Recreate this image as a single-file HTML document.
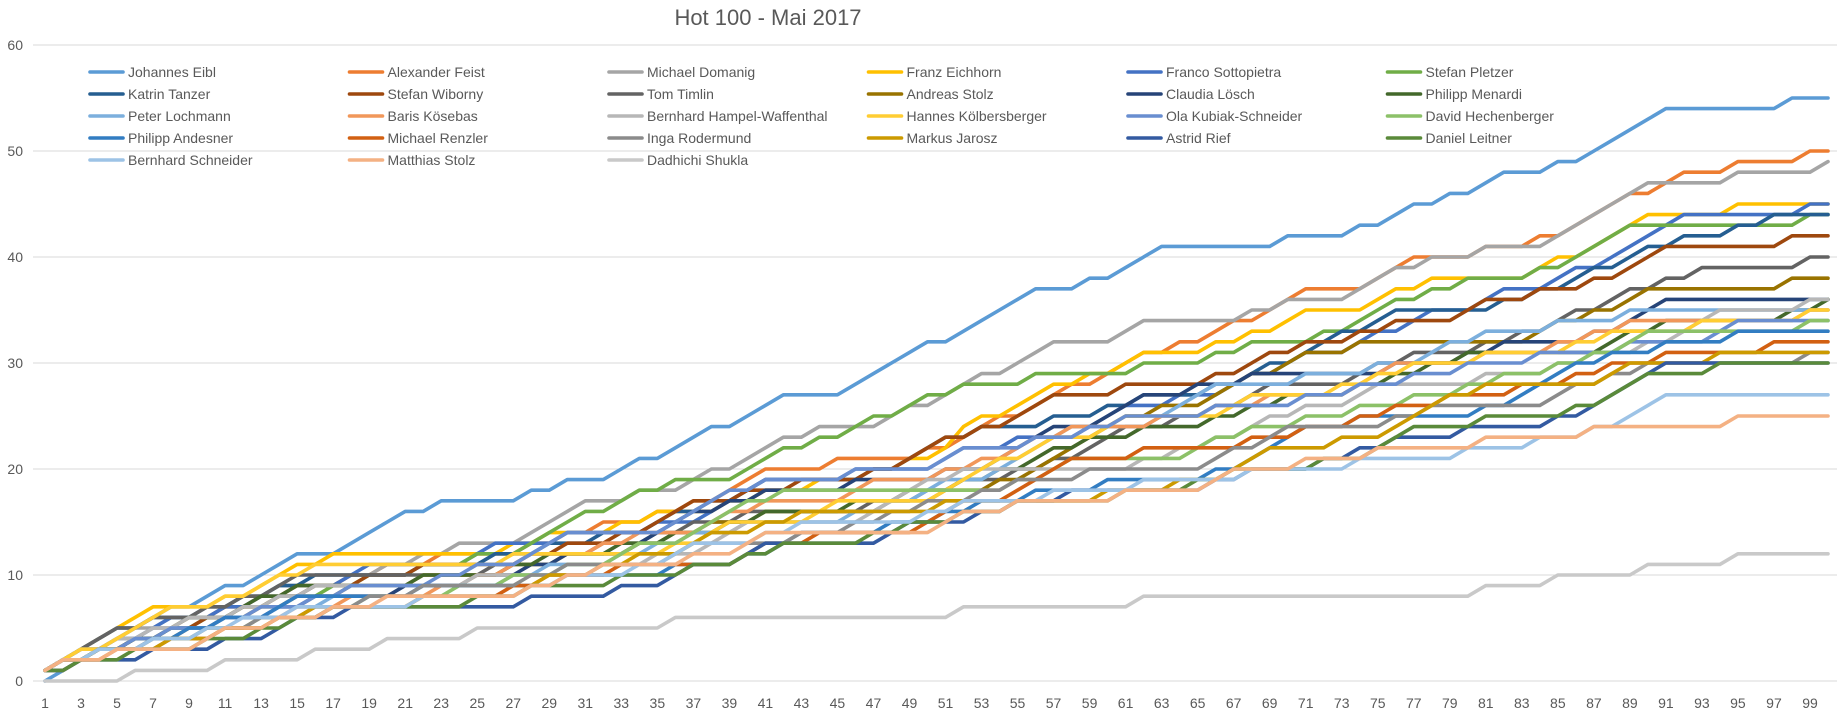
<!DOCTYPE html>
<html><head><meta charset="utf-8"><title>Hot 100 - Mai 2017</title>
<style>
html,body{margin:0;padding:0;background:#fff;}
#wrap{position:relative;width:1843px;height:723px;overflow:hidden;font-family:"Liberation Sans",sans-serif;}
svg{position:absolute;left:0;top:0;}
</style></head>
<body>
<div id="wrap">
<svg id="chart" width="1843" height="723">
<text x="768" y="25" text-anchor="middle" font-size="22" fill="#595959" font-family="Liberation Sans, sans-serif">Hot 100 - Mai 2017</text>
<g id="grid"></g>
<g id="yaxis"></g>
<g id="xaxis"></g>
<g id="series"></g>
<g id="legend"></g>
</svg>
</div>
<script>
const names = ["Johannes Eibl","Alexander Feist","Michael Domanig","Franz Eichhorn","Franco Sottopietra","Stefan Pletzer","Katrin Tanzer","Stefan Wiborny","Tom Timlin","Andreas Stolz","Claudia Lösch","Philipp Menardi","Peter Lochmann","Baris Kösebas","Bernhard Hampel-Waffenthal","Hannes Kölbersberger","Ola Kubiak-Schneider","David Hechenberger","Philipp Andesner","Michael Renzler","Inga Rodermund","Markus Jarosz","Astrid Rief","Daniel Leitner","Bernhard Schneider","Matthias Stolz","Dadhichi Shukla"];
const colors = ["#5B9BD5","#ED7D31","#A5A5A5","#FFC000","#4472C4","#70AD47","#255E91","#9E480E","#636363","#997300","#264478","#43682B","#7CAFDD","#F1975A","#B7B7B7","#FFCD33","#698ED0","#8CC168","#327DC2","#D26012","#8B8B8B","#CC9A00","#335AA1","#5A8A3A","#9DC3E6","#F4B183","#C9C9C9"];
const yTicks = [0,10,20,30,40,50,60];
const eibl = [0,1,2,3,4,5,6,7,7,8, 9,9,10,11,12,12,12,13,14,15, 16,16,17,17,17,17,17,18,18,19, 19,19,20,21,21,22,23,24,24,25, 26,27,27,27,27,28,29,30,31,32, 32,33,34,35,36,37,37,37,38,38, 39,40,41,41,41,41,41,41,41,42, 42,42,42,43,43,44,45,45,46,46, 47,48,48,48,49,49,50,51,52,53, 54,54,54,54,54,54,54,55,55,55];
const feist = [1,2,3,3,4,4,5,5,6,6, 7,7,8,8,9,9,9,10,10,11, 11,11,12,12,12,12,12,13,13,14, 14,15,15,15,16,16,17,17,18,19, 20,20,20,20,21,21,21,21,21,22, 22,23,24,25,25,26,27,28,28,29, 30,31,31,32,32,33,34,34,35,36, 37,37,37,37,38,39,40,40,40,40, 41,41,41,42,42,43,44,45,46,46, 47,48,48,48,49,49,49,49,50,50];
const domanig = [1,2,3,3,4,5,5,6,6,6, 7,8,8,9,9,9,9,10,10,11, 11,12,12,13,13,13,13,14,15,16, 17,17,17,18,18,18,19,20,20,21, 22,23,23,24,24,24,24,25,26,26, 27,28,29,29,30,31,32,32,32,32, 33,34,34,34,34,34,34,35,35,36, 36,36,36,37,38,39,39,40,40,40, 41,41,41,41,42,43,44,45,46,47, 47,47,47,47,48,48,48,48,48,49];
const eichhorn = [1,2,3,4,5,6,7,7,7,7, 8,8,9,10,11,11,12,12,12,12, 12,12,12,12,12,12,13,13,14,14, 14,14,15,15,16,16,16,16,17,17, 18,18,18,19,19,19,20,20,21,21, 22,24,25,25,26,27,28,28,29,29, 30,31,31,31,31,32,32,33,33,34, 35,35,35,35,36,37,37,38,38,38, 38,38,38,39,40,40,41,42,43,44, 44,44,44,44,45,45,45,45,45,45];
const sottopietra = [1,2,3,3,4,4,5,6,6,6, 7,7,8,8,8,9,9,10,11,11, 11,11,11,11,12,13,13,13,13,14, 14,14,14,14,15,15,15,16,17,18, 19,19,19,19,19,20,20,20,20,20, 21,22,22,22,23,23,23,23,24,25, 26,26,26,27,27,27,28,29,29,30, 31,31,31,32,33,33,34,35,35,35, 36,37,37,37,38,39,39,40,41,42, 43,44,44,44,44,44,44,44,45,45];
const pletzer = [1,2,2,3,3,4,4,5,5,6, 6,7,7,8,8,8,9,9,10,10, 10,11,11,11,12,12,12,13,14,15, 16,16,17,18,18,19,19,19,19,20, 21,22,22,23,23,24,25,25,26,27, 27,28,28,28,28,29,29,29,29,29, 29,30,30,30,30,31,31,32,32,32, 32,33,33,34,35,36,36,37,37,38, 38,38,38,39,39,40,41,42,43,43, 43,43,43,43,43,43,43,43,44,44];
const tanzer = [1,2,3,4,5,5,6,6,6,7, 7,8,8,9,9,10,10,10,10,10, 10,11,11,11,11,12,12,12,13,13, 13,14,14,14,15,16,16,17,17,18, 19,19,19,19,19,19,20,20,21,22, 23,23,24,24,24,24,25,25,25,26, 26,27,27,27,27,28,28,29,30,30, 31,32,33,33,34,35,35,35,35,35, 35,36,36,37,37,38,39,39,40,41, 41,42,42,42,43,43,44,44,44,44];
const wiborny = [1,2,2,3,3,4,4,5,5,6, 6,7,7,8,8,9,9,9,10,10, 10,11,11,11,11,11,11,12,12,13, 13,13,14,14,15,16,17,17,17,18, 18,18,19,19,19,19,20,20,21,22, 23,23,24,24,25,26,27,27,27,27, 28,28,28,28,28,29,29,30,31,31, 32,32,32,33,33,34,34,34,34,35, 36,36,36,37,37,37,38,38,39,40, 41,41,41,41,41,41,41,42,42,42];
const timlin = [1,2,3,4,5,5,6,6,6,7, 7,8,8,9,10,10,10,10,10,10, 10,10,10,10,10,11,11,12,12,12, 12,13,13,13,14,14,15,15,15,16, 16,16,16,16,16,16,17,17,17,18, 18,19,19,19,20,20,21,21,22,23, 24,24,24,25,25,26,26,27,28,28, 28,28,28,29,30,30,31,31,31,31, 32,32,33,33,34,35,35,36,37,37, 38,38,39,39,39,39,39,39,40,40];
const aStolz = [1,2,2,3,3,4,4,4,5,5, 6,6,7,7,8,8,8,9,9,9, 9,10,10,10,10,10,11,11,11,12, 12,12,12,13,13,14,14,15,15,15, 16,16,16,16,16,16,16,17,17,17, 18,18,18,19,19,20,21,22,23,24, 25,25,26,26,26,27,28,29,29,30, 31,31,31,32,32,32,32,32,32,32, 32,32,32,33,34,34,35,35,36,37, 37,37,37,37,37,37,37,38,38,38];
const loesch = [1,2,2,3,3,4,4,5,5,5, 6,6,6,7,7,8,8,8,8,8, 9,9,9,9,10,10,10,11,11,12, 12,12,12,13,14,15,16,16,17,17, 18,18,18,18,18,19,19,19,19,19, 20,20,20,21,22,23,24,24,24,25, 26,27,27,27,28,28,28,29,29,29, 29,29,29,29,29,30,30,30,30,31, 31,32,32,32,32,32,33,33,34,35, 36,36,36,36,36,36,36,36,36,36];
const menardi = [1,2,2,3,3,4,4,5,6,6, 6,7,8,8,9,9,9,9,9,9, 9,10,10,10,10,10,11,11,12,12, 12,12,13,13,13,14,14,14,15,15, 16,16,16,16,16,17,17,17,18,18, 18,19,19,20,20,21,22,22,23,23, 23,24,24,24,24,25,25,26,26,27, 27,27,27,28,28,29,29,30,30,31, 31,31,31,31,31,31,31,32,33,33, 34,34,34,34,34,34,34,35,35,36];
const lochmann = [1,2,3,3,4,4,5,5,5,5, 6,6,6,7,7,7,8,8,8,8, 8,9,9,9,9,9,10,10,11,11, 11,11,12,12,13,13,14,14,14,15, 15,15,15,15,15,16,16,17,17,18, 19,19,19,20,21,22,23,24,24,24, 24,24,25,26,27,28,28,28,28,28, 29,29,29,29,30,30,30,31,32,32, 33,33,33,33,34,34,34,34,35,35, 35,35,35,35,35,35,35,35,35,35];
const koesebas = [1,2,2,3,3,3,4,4,4,4, 5,5,6,6,7,7,7,8,8,8, 8,8,9,9,10,10,11,12,12,12, 12,13,13,14,14,14,14,15,16,16, 17,17,17,17,17,18,19,19,19,19, 20,20,21,21,22,23,23,24,24,24, 24,24,25,25,25,26,26,26,27,27, 27,27,27,28,29,30,30,30,30,30, 31,31,31,31,32,32,33,33,34,34, 34,34,34,34,34,34,34,34,35,35];
const hampel = [1,2,3,3,4,4,5,5,6,6, 6,7,7,8,8,9,9,9,9,9, 9,9,9,9,10,10,10,10,10,10, 10,11,11,11,12,12,12,13,14,15, 15,15,15,15,15,15,16,17,18,19, 19,20,20,20,20,20,20,20,20,20, 20,21,21,22,22,23,23,24,25,25, 26,26,26,27,28,28,28,28,28,28, 29,29,29,29,30,30,31,31,31,32, 32,33,34,35,35,35,35,35,36,36];
const koelbersberger = [1,2,3,3,4,5,6,7,7,7, 8,8,9,10,10,11,11,11,11,11, 11,11,11,11,11,11,12,12,12,12, 12,12,12,12,12,13,13,14,15,15, 15,15,15,16,17,17,17,17,17,17, 18,19,20,21,21,22,23,23,23,24, 25,25,25,25,25,25,26,27,27,27, 27,27,28,28,29,29,30,30,30,30, 31,31,31,31,31,32,32,33,33,33, 33,33,34,34,34,34,34,34,35,35];
const kubiak = [1,2,2,3,3,4,4,5,5,5, 6,6,7,7,7,8,8,9,9,9, 9,9,10,10,11,11,11,12,13,14, 14,14,14,14,14,15,16,17,18,18, 19,19,19,19,19,20,20,20,20,20, 21,22,22,22,22,23,23,23,24,24, 25,25,25,25,25,26,26,26,26,26, 27,27,27,28,28,28,29,29,29,30, 30,30,30,31,31,31,31,31,32,32, 32,32,32,33,34,34,34,34,34,34];
const hechenberger = [1,2,2,3,3,3,4,4,4,5, 5,5,6,6,6,6,7,7,8,8, 8,8,8,9,9,9,10,10,10,11, 11,11,12,13,13,13,14,15,16,17, 17,18,18,18,18,18,18,18,18,18, 18,18,18,18,19,19,20,21,21,21, 21,21,21,21,22,23,23,24,24,24, 25,25,25,26,26,26,27,27,27,28, 28,29,29,29,30,30,31,31,32,33, 33,33,33,33,33,33,33,33,34,34];
const andesner = [1,2,2,3,3,3,4,4,5,5, 6,6,6,7,8,8,8,8,8,8, 8,9,9,9,9,9,9,9,9,10, 10,10,10,10,10,11,11,11,11,12, 12,13,14,14,14,14,14,15,15,15, 16,16,17,17,17,18,18,18,18,19, 19,19,19,19,19,20,20,21,22,23, 24,24,24,25,25,25,25,25,25,25, 26,26,27,28,29,30,30,31,31,31, 32,32,32,32,33,33,33,33,33,33];
const renzler = [1,1,2,2,3,3,3,4,4,4, 5,5,5,6,6,6,7,7,7,7, 7,8,8,8,8,8,9,9,10,10, 10,10,11,11,11,11,11,11,11,12, 13,13,13,14,14,14,14,14,14,15, 16,17,17,17,18,19,20,21,21,21, 21,22,22,22,22,22,22,23,23,23, 24,24,24,25,25,26,26,26,27,27, 27,27,28,28,28,29,29,30,30,30, 31,31,31,31,31,31,32,32,32,32];
const rodermund = [1,2,2,3,3,3,4,4,4,5, 5,5,6,6,6,7,7,7,8,8, 8,9,9,9,9,9,9,10,10,11, 11,11,11,11,11,12,13,13,13,13, 13,13,14,14,14,15,15,16,16,17, 17,17,18,18,19,19,19,19,20,20, 20,20,20,20,20,21,22,22,23,24, 24,24,24,24,24,25,25,26,26,26, 26,26,26,26,27,28,28,29,29,30, 30,30,30,30,30,30,30,30,31,31];
const jarosz = [1,2,2,3,3,3,3,4,4,4, 5,5,5,6,6,7,7,7,7,7, 7,8,8,8,8,8,8,9,10,10, 10,11,11,12,12,12,13,14,14,14, 15,15,16,16,16,16,16,16,16,16, 17,17,17,17,17,17,17,17,17,18, 18,18,18,19,19,19,20,21,22,22, 22,22,23,23,23,24,25,26,27,27, 28,28,28,28,28,28,28,29,30,30, 30,30,30,31,31,31,31,31,31,31];
const rief = [1,1,2,2,2,2,3,3,3,3, 4,4,4,5,6,6,6,7,7,7, 7,7,7,7,7,7,7,8,8,8, 8,8,9,9,9,10,11,11,11,12, 13,13,13,13,13,13,13,14,15,15, 15,15,16,16,17,17,17,18,18,18, 18,18,18,18,18,19,19,20,20,20, 20,21,21,22,22,23,23,23,23,24, 24,24,24,24,25,25,26,27,28,29, 30,30,30,30,30,30,30,30,30,30];
const leitner = [1,1,2,2,2,3,3,3,3,4, 4,4,5,5,6,6,7,7,7,7, 7,7,7,7,8,8,8,9,9,9, 9,9,10,10,10,10,11,11,11,12, 12,13,13,13,13,13,14,14,15,15, 15,16,16,16,17,17,17,17,17,17, 18,18,18,18,19,19,20,20,20,20, 20,21,21,21,22,23,24,24,24,24, 25,25,25,25,25,26,26,27,28,29, 29,29,29,30,30,30,30,30,30,30];
const schneider = [1,2,2,3,3,3,4,4,4,5, 5,6,6,6,7,7,7,7,7,7, 7,8,8,8,8,8,8,9,9,10, 10,10,10,11,11,12,13,13,13,13, 14,14,15,15,15,15,15,15,15,16, 16,17,17,17,17,17,18,18,18,18, 18,19,19,19,19,19,19,20,20,20, 20,20,20,21,21,21,21,21,21,22, 22,22,22,23,23,23,24,24,25,26, 27,27,27,27,27,27,27,27,27,27];
const mStolz = [1,2,2,2,3,3,3,3,3,4, 5,5,5,6,6,6,7,7,7,8, 8,8,8,8,8,8,8,9,9,10, 10,11,11,11,11,11,12,12,12,13, 14,14,14,14,14,14,14,14,14,14, 15,16,16,16,17,17,17,17,17,17, 18,18,18,18,18,19,20,20,20,20, 21,21,21,21,22,22,22,22,22,22, 23,23,23,23,23,23,24,24,24,24, 24,24,24,24,25,25,25,25,25,25];
const shukla = [0,0,0,0,0,1,1,1,1,1, 2,2,2,2,2,3,3,3,3,4, 4,4,4,4,5,5,5,5,5,5, 5,5,5,5,5,6,6,6,6,6, 6,6,6,6,6,6,6,6,6,6, 6,7,7,7,7,7,7,7,7,7, 7,8,8,8,8,8,8,8,8,8, 8,8,8,8,8,8,8,8,8,8, 9,9,9,9,10,10,10,10,10,11, 11,11,11,11,12,12,12,12,12,12];
const seriesValues = [eibl,feist,domanig,eichhorn,sottopietra,pletzer,tanzer,wiborny,timlin,aStolz,loesch,menardi,lochmann,koesebas,hampel,koelbersberger,kubiak,hechenberger,andesner,renzler,rodermund,jarosz,rief,leitner,schneider,mStolz,shukla];

const NS = "http://www.w3.org/2000/svg";
const X0 = 45, DX = 18.01, Y0 = 681, DY = 10.6;
function xScale(i){ return X0 + (i - 1) * DX; }
function yScale(v){ return Y0 - v * DY; }
function mk(tag, attrs, parent){ const e = document.createElementNS(NS, tag); for (const k in attrs) e.setAttribute(k, attrs[k]); parent.appendChild(e); return e; }

const grid = document.getElementById('grid');
const yaxis = document.getElementById('yaxis');
const xaxis = document.getElementById('xaxis');
yTicks.forEach(v => {
  const l = mk('line', {x1: 33, x2: 1837, y1: yScale(v), y2: yScale(v), stroke: '#D9D9D9', 'stroke-width': 1}, grid);
  
  
  const t = mk('text', {x: 23, y: yScale(v) + 5, 'text-anchor': 'end', 'font-size': 14, fill: '#595959'}, yaxis);
  t.textContent = v;
  
  
});
const n = eibl.length;
for (let i = 1; i <= n; i += 2) {
  const t = mk('text', {x: xScale(i), y: 708, 'text-anchor': 'middle', 'font-size': 14, fill: '#595959'}, xaxis);
  t.textContent = i;
  
  
}

const sg = document.getElementById('series');
seriesValues.forEach((vals, s) => {
  const d = vals.map((v, i) => (i ? 'L' : 'M') + xScale(i + 1).toFixed(1) + ' ' + yScale(v).toFixed(1)).join(' ');
  const p = mk('path', {d: d, fill: 'none', stroke: colors[s], 'stroke-width': 3.6, 'stroke-linejoin': 'round', 'stroke-linecap': 'round'}, sg);
  
  
});

const lg = document.getElementById('legend');
names.forEach((nm, s) => {
  const col = s % 6, row = Math.floor(s / 6);
  const lx = 90 + col * 259.5, ly = 72 + row * 22;
  const g = mk('g', {}, lg);
  
  
  mk('line', {x1: lx, x2: lx + 33, y1: ly, y2: ly, stroke: colors[s], 'stroke-width': 3.6, 'stroke-linecap': 'round'}, g);
  const t = mk('text', {x: lx + 38, y: ly + 5, 'font-size': 14, fill: '#595959'}, g);
  t.textContent = nm;
});
</script>
</body></html>
